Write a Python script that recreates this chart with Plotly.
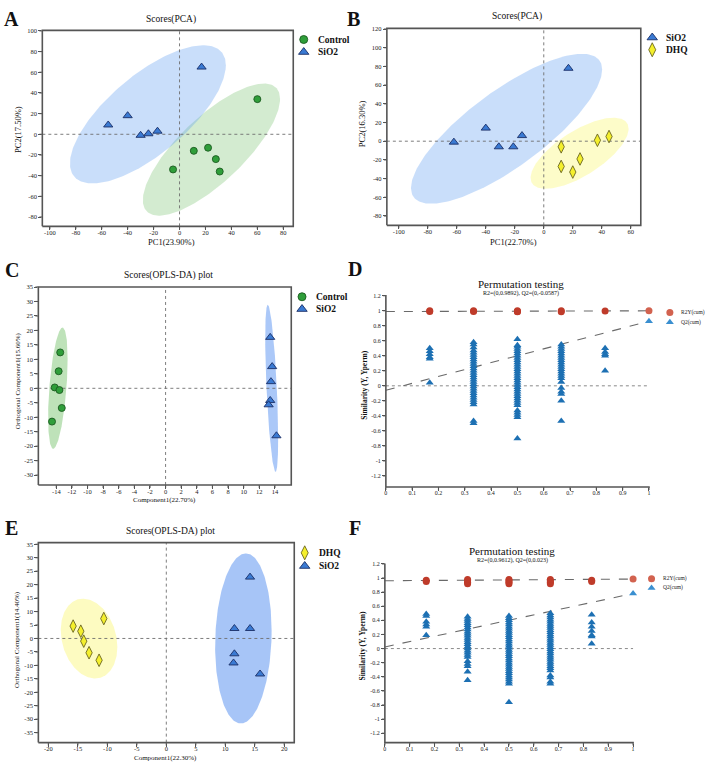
import numpy as np
import plotly.graph_objects as go

W, H = 709, 764
SERIF = "Liberation Serif"

# ---------------- data ----------------
# Panel A : PCA, Control vs SiO2
a_ctrl_x = [60, 11, 22, 28, 31, -5]
a_ctrl_y = [34, -16, -13, -24, -36, -34]
a_sio2_x = [-55, -40, -30, -24, -17, 17]
a_sio2_y = [9, 18, -1, 0.5, 3, 65]
# Panel B : PCA, SiO2 vs DHQ
b_sio2_x = [-62, -40, -31, -21, -15, 17]
b_sio2_y = [-1, 14, -6, -6, 6, 78]
b_dhq_x = [12, 12, 20, 25, 37, 45]
b_dhq_y = [-6, -27, -33, -19, 1, 5]
# Panel C : OPLS-DA, Control vs SiO2
c_ctrl_x = [-13.5, -13.7, -14.2, -13.6, -13.3, -14.55]
c_ctrl_y = [12.4, 5.9, 0.3, -0.6, -6.8, -11.5]
c_sio2_x = [13.4, 13.65, 13.5, 13.4, 13.2, 14.2]
c_sio2_y = [17.6, 7.5, 2.3, -4.2, -5.7, -16.4]
# Panel E : OPLS-DA, DHQ vs SiO2
e_dhq_x = [-15.8, -14.5, -14.0, -13.1, -11.4, -10.6]
e_dhq_y = [4.6, 2.7, -1.0, -5.3, -8.1, 7.4]
e_sio2_x = [14.2, 11.55, 14.2, 11.55, 11.4, 15.9]
e_sio2_y = [22.8, 3.7, 3.7, -5.7, -9.1, -13.2]

# confidence ellipses: centre x, centre y, x half-extent, y half-extent, tilt
ell_a_sio2 = [-24.4, 19.3, 60.1, 66.8, 0.71]
ell_a_ctrl = [24.6, -14.8, 52.9, 63.9, 0.765]
ell_b_sio2 = [-25.65, 13.3, 65.9, 80.2, 0.79]
ell_b_dhq = [24.7, -12.9, 33.8, 38.05, 0.69]
ell_c_ctrl = [-13.8, 0.05, 1.25, 20.95, 0.48]
ell_c_sio2 = [13.59, 0.0, 0.83, 28.85, -0.6]
ell_e_dhq = [-13.1, -0.05, 4.8, 14.85, -0.21]
ell_e_sio2 = [13.07, 0.0, 4.79, 31.6, 0.09]

# permutation tests: x = correlation of permuted Y with original Y
perm_x = [0.1667, 0.3333, 0.5, 0.6667, 0.8333, 1.0]
d_q2 = [
    [0.50, 0.46, 0.42, 0.38, 0.36, 0.04],
    [0.58, 0.55, 0.51, 0.47, 0.44, 0.41, 0.38, 0.35, 0.32, 0.29, 0.26, 0.23, 0.20, 0.17, 0.14,
     0.11, 0.08, 0.05, 0.02, -0.01, -0.04, -0.07, -0.10, -0.13, -0.16, -0.19, -0.22, -0.25, -0.47, -0.50],
    [0.62, 0.54, 0.52, 0.49, 0.46, 0.43, 0.40, 0.37, 0.34, 0.31, 0.28, 0.25, 0.22, 0.19, 0.16, 0.13,
     0.10, 0.07, 0.04, 0.01, -0.02, -0.05, -0.08, -0.11, -0.14, -0.17, -0.20, -0.23, -0.26, -0.33,
     -0.36, -0.39, -0.42, -0.70],
    [0.55, 0.52, 0.49, 0.46, 0.43, 0.40, 0.37, 0.34, 0.31, 0.28, 0.25, 0.22, 0.19, 0.16, 0.13, 0.10,
     0.05, -0.03, -0.08, -0.11, -0.20, -0.47],
    [0.50, 0.45, 0.42, 0.40, 0.20],
    [0.86],
]
d_r2 = [[0.99, 1.0], [0.99, 1.0], [0.985, 0.99, 1.0], [0.985, 1.0], [0.995], [1.0]]
d_r2_line = [0.9892, 0.999]
d_q2_line = [-0.0587, 0.86]

f_q2 = [
    [0.49, 0.46, 0.38, 0.34, 0.31, 0.19],
    [0.45, 0.42, 0.39, 0.36, 0.33, 0.30, 0.27, 0.24, 0.21, 0.18, 0.15, 0.12, 0.09, 0.06, 0.03, 0.00,
     -0.03, -0.06, -0.09, -0.12, -0.18, -0.22, -0.25, -0.33, -0.45],
    [0.46, 0.43, 0.40, 0.37, 0.34, 0.31, 0.28, 0.25, 0.22, 0.19, 0.16, 0.13, 0.10, 0.07, 0.04, 0.01,
     -0.02, -0.05, -0.08, -0.11, -0.14, -0.17, -0.20, -0.23, -0.26, -0.29, -0.32, -0.35, -0.38, -0.41,
     -0.44, -0.47, -0.50, -0.76],
    [0.50, 0.47, 0.44, 0.41, 0.38, 0.35, 0.32, 0.29, 0.26, 0.23, 0.20, 0.17, 0.14, 0.11, 0.08, 0.05,
     0.02, -0.01, -0.04, -0.07, -0.10, -0.13, -0.16, -0.19, -0.22, -0.25, -0.28, -0.31, -0.38, -0.41,
     -0.47, -0.50],
    [0.48, 0.37, 0.31, 0.25, 0.19, 0.17, 0.07],
    [0.78],
]
f_r2 = [[0.95, 0.97], [0.92, 0.94, 0.96, 0.98], [0.92, 0.94, 0.96, 0.98], [0.92, 0.94, 0.96, 0.98],
        [0.95, 0.97], [0.985]]
f_r2_line = [0.9612, 0.985]
f_q2_line = [0.023, 0.78]

# tick values
a_xticks = [-100, -80, -60, -40, -20, 0, 20, 40, 60, 80]
a_yticks = [-80, -60, -40, -20, 0, 20, 40, 60, 80, 100]
b_xticks = [-100, -80, -60, -40, -20, 0, 20, 40, 60]
b_yticks = [-80, -60, -40, -20, 0, 20, 40, 60, 80, 100, 120]
c_xticks = [-14, -12, -10, -8, -6, -4, -2, 0, 2, 4, 6, 8, 10, 12, 14]
c_yticks = [-30, -25, -20, -15, -10, -5, 0, 5, 10, 15, 20, 25, 30, 35]
e_xticks = [-20, -15, -10, -5, 0, 5, 10, 15, 20]
e_yticks = [-35, -30, -25, -20, -15, -10, -5, 0, 5, 10, 15, 20, 25, 30, 35]
p_xticks = [0, 0.1, 0.2, 0.3, 0.4, 0.5, 0.6, 0.7, 0.8, 0.9, 1]
p_yticks = [-1.2, -1, -0.8, -0.6, -0.4, -0.2, 0, 0.2, 0.4, 0.6, 0.8, 1, 1.2]

# ---------------- colours ----------------
GREEN = "#2f9e3a"
GREEN_LINE = "#1c5a20"
BLUE = "#3a7ad3"
BLUE_LINE = "#1b2f66"
YELLOW = "#f4ef2c"
YELLOW_LINE = "#6a6520"
Q2C = "#1d70b3"
Q2C_LIGHT = "#3a8fd0"
R2C = "#bf3b2a"
R2C_LIGHT = "#d2624f"
AXC = "#555555"

# ---------------- panel geometry (page pixels) and ranges ----------------
# key: axis suffix -> (left px, right px, top px, bottom px, xrange, yrange)
panels = {
    "": (40.5, 292.5, 26.5, 223.5, [-105.8, 87.7], [-89, 100.5]),
    "2": (386.5, 641.5, 24.5, 222.5, [-108.2, 66.9], [-90, 120.7]),
    "3": (36.5, 290.5, 284.5, 483.5, [-16.3, 16.1], [-33.4, 35.0]),
    "4": (385.5, 650.5, 292.5, 485.5, [0, 1.003], [-1.347, 1.21]),
    "5": (36.5, 293.5, 541.5, 742.5, [-21.7, 21.7], [-38.7, 35.6]),
    "6": (384.5, 634.5, 562.5, 742.5, [0, 1.003], [-1.333, 1.205]),
}

fig = go.Figure()


def xpix(ax, v):
    x0, x1, y0, y1, xr, yr = panels[ax]
    return x0 + (v - xr[0]) / (xr[1] - xr[0]) * (x1 - x0)


def ypix(ax, v):
    x0, x1, y0, y1, xr, yr = panels[ax]
    return y1 - (v - yr[0]) / (yr[1] - yr[0]) * (y1 - y0)


def fmt(v):
    return "%g" % round(v, 4)


def ellipse(params, ax, color):
    cx, cy, rx, ry, rho = params
    phi = np.arcsin(rho)
    t = np.linspace(0, 2 * np.pi, 240)
    fig.add_trace(go.Scatter(
        x=cx + rx * np.cos(t), y=cy + ry * np.sin(t + phi), mode="lines",
        fill="toself", fillcolor=color, line=dict(width=0), hoverinfo="skip",
        showlegend=False, xaxis="x" + ax, yaxis="y" + ax))


def zero_lines(ax):
    xr, yr = panels[ax][4], panels[ax][5]
    fig.add_trace(go.Scatter(x=[xr[0], xr[1], None, 0, 0], y=[0, 0, None, yr[0], yr[1]],
                             mode="lines", line=dict(color="#6e6e6e", width=0.9, dash="dot"),
                             showlegend=False, hoverinfo="skip", xaxis="x" + ax, yaxis="y" + ax))


def pts(x, y, ax, symbol, color, lcolor, size):
    fig.add_trace(go.Scatter(x=x, y=y, mode="markers", showlegend=False,
                             marker=dict(symbol=symbol, color=color, size=size,
                                         line=dict(color=lcolor, width=0.9)),
                             xaxis="x" + ax, yaxis="y" + ax))


# ---- Panel A ----
ellipse(ell_a_ctrl, "", "rgba(110,190,100,0.30)")
ellipse(ell_a_sio2, "", "rgba(100,160,240,0.35)")
zero_lines("")
pts(a_ctrl_x, a_ctrl_y, "", "circle", GREEN, GREEN_LINE, 7)
pts(a_sio2_x, a_sio2_y, "", "triangle-up", BLUE, BLUE_LINE, 8)
# ---- Panel B ----
ellipse(ell_b_sio2, "2", "rgba(100,160,240,0.35)")
ellipse(ell_b_dhq, "2", "rgba(250,245,100,0.35)")
zero_lines("2")
pts(b_sio2_x, b_sio2_y, "2", "triangle-up", BLUE, BLUE_LINE, 8)
pts(b_dhq_x, b_dhq_y, "2", "diamond-tall", YELLOW, YELLOW_LINE, 9)
# ---- Panel C ----
ellipse(ell_c_ctrl, "3", "rgba(110,190,100,0.45)")
ellipse(ell_c_sio2, "3", "rgba(80,140,240,0.48)")
zero_lines("3")
pts(c_ctrl_x, c_ctrl_y, "3", "circle", GREEN, GREEN_LINE, 7)
pts(c_sio2_x, c_sio2_y, "3", "triangle-up", BLUE, BLUE_LINE, 8)
# ---- Panel E ----
ellipse(ell_e_dhq, "5", "rgba(250,245,100,0.40)")
ellipse(ell_e_sio2, "5", "rgba(80,140,240,0.50)")
zero_lines("5")
pts(e_dhq_x, e_dhq_y, "5", "diamond-tall", YELLOW, YELLOW_LINE, 9)
pts(e_sio2_x, e_sio2_y, "5", "triangle-up", BLUE, BLUE_LINE, 8)


# ---- Permutation panels ----
def perm_panel(ax, q2, r2, r2_line, q2_line):
    fig.add_trace(go.Scatter(x=[0, 1], y=[0, 0], mode="lines",
                             line=dict(color="#8a8a8a", width=1, dash="dot"), showlegend=False,
                             hoverinfo="skip", xaxis="x" + ax, yaxis="y" + ax))
    fig.add_trace(go.Scatter(x=[0, 1], y=r2_line, mode="lines",
                             line=dict(color="#6a6a6a", width=1.1, dash="dash"), showlegend=False,
                             hoverinfo="skip", xaxis="x" + ax, yaxis="y" + ax))
    fig.add_trace(go.Scatter(x=[0, 1], y=q2_line, mode="lines",
                             line=dict(color="#6a6a6a", width=1.1, dash="dash"), showlegend=False,
                             hoverinfo="skip", xaxis="x" + ax, yaxis="y" + ax))
    for i, xv in enumerate(perm_x):
        last = i == len(perm_x) - 1
        fig.add_trace(go.Scatter(x=[xv] * len(q2[i]), y=q2[i], mode="markers", showlegend=False,
                                 cliponaxis=False,
                                 marker=dict(symbol="triangle-up", size=7,
                                             color=Q2C_LIGHT if last else Q2C, line=dict(width=0)),
                                 xaxis="x" + ax, yaxis="y" + ax))
        fig.add_trace(go.Scatter(x=[xv] * len(r2[i]), y=r2[i], mode="markers", showlegend=False,
                                 cliponaxis=False,
                                 marker=dict(symbol="circle", size=7,
                                             color=R2C_LIGHT if last else R2C, line=dict(width=0)),
                                 xaxis="x" + ax, yaxis="y" + ax))


perm_panel("4", d_q2, d_r2, d_r2_line, d_q2_line)
perm_panel("6", f_q2, f_r2, f_r2_line, f_q2_line)

# ---------------- frames and tick marks (page-pixel overlay) ----------------
TL = 3.0
for ax, xt, yt, boxed in [("", a_xticks, a_yticks, True), ("2", b_xticks, b_yticks, True),
                          ("3", c_xticks, c_yticks, True), ("4", p_xticks, p_yticks, False),
                          ("5", e_xticks, e_yticks, True), ("6", p_xticks, p_yticks, False)]:
    x0, x1, y0, y1 = panels[ax][:4]
    if boxed:
        fx = [x0, x1, x1, x0, x0]
        fy = [y1, y1, y0, y0, y1]
    else:
        fx = [x0, x0, x1]
        fy = [y0, y1, y1]
    fig.add_trace(go.Scatter(x=fx, y=fy, mode="lines", line=dict(color=AXC, width=1.6),
                             showlegend=False, hoverinfo="skip", xaxis="x7", yaxis="y7"))
    tx, ty = [], []
    for v in xt:
        px = xpix(ax, v)
        tx += [px, px, None]
        ty += [y1, y1 + TL, None]
    for v in yt:
        py = ypix(ax, v)
        tx += [x0, x0 - TL, None]
        ty += [py, py, None]
    fig.add_trace(go.Scatter(x=tx, y=ty, mode="lines", line=dict(color=AXC, width=1.1),
                             showlegend=False, hoverinfo="skip", xaxis="x7", yaxis="y7"))

# ---------------- legends (glyphs in the page-pixel overlay) ----------------
leg_items = [
    # px, py, symbol, fill, line, size, text
    (303, 35.7, "circle", GREEN, GREEN_LINE, 8, "Control"),
    (303, 48.3, "triangle-up", BLUE, BLUE_LINE, 9, "SiO2"),
    (653, 33.7, "triangle-up", BLUE, BLUE_LINE, 9, "SiO2"),
    (653, 46.0, "diamond-tall", YELLOW, YELLOW_LINE, 10, "DHQ"),
    (301.3, 294.3, "circle", GREEN, GREEN_LINE, 8, "Control"),
    (301.3, 306.7, "triangle-up", BLUE, BLUE_LINE, 9, "SiO2"),
    (304, 551.7, "diamond-tall", YELLOW, YELLOW_LINE, 10, "DHQ"),
    (304, 565.0, "triangle-up", BLUE, BLUE_LINE, 9, "SiO2"),
]
for (lx, ly, sym, fc, lc, sz, txt) in leg_items:
    fig.add_trace(go.Scatter(x=[lx], y=[ly], mode="markers", showlegend=False, hoverinfo="skip",
                             marker=dict(symbol=sym, color=fc, size=sz, line=dict(color=lc, width=0.9)),
                             xaxis="x7", yaxis="y7"))
    fig.add_annotation(x=(lx + 12) / W, y=1 - ly / H, xref="paper", yref="paper", text="<b>%s</b>" % txt,
                       showarrow=False, xanchor="left", yanchor="middle",
                       font=dict(family=SERIF, size=9.5, color="#111"))

perm_leg = [
    (670.7, 310, "circle", R2C_LIGHT, "R2Y(cum)"),
    (670.7, 320, "triangle-up", Q2C_LIGHT, "Q2(cum)"),
    (652.3, 577.7, "circle", R2C_LIGHT, "R2Y(cum)"),
    (652.3, 587, "triangle-up", Q2C_LIGHT, "Q2(cum)"),
]
for (lx, ly, sym, fc, txt) in perm_leg:
    fig.add_trace(go.Scatter(x=[lx], y=[ly], mode="markers", showlegend=False, hoverinfo="skip",
                             marker=dict(symbol=sym, color=fc, size=7, line=dict(width=0)),
                             xaxis="x7", yaxis="y7"))
    fig.add_annotation(x=(lx + 9) / W, y=1 - ly / H, xref="paper", yref="paper", text=txt,
                       showarrow=False, xanchor="left", yanchor="middle",
                       font=dict(family=SERIF, size=5.5, color="#222"))


# ---------------- text annotations ----------------
def ann(px, py, text, size, bold=False, angle=0):
    if bold:
        text = "<b>%s</b>" % text
    fig.add_annotation(x=px / W, y=1 - py / H, xref="paper", yref="paper", text=text, showarrow=False,
                       xanchor="center", yanchor="middle", textangle=angle,
                       font=dict(family=SERIF, size=size, color="#111"))


# panel letters
for (lx, ly, lt) in [(10, 15, "A"), (353, 15, "B"), (10, 267, "C"), (355, 266, "D"),
                     (10, 527, "E"), (355, 527, "F")]:
    ann(lx, ly, lt, 20, bold=True)

# titles
ann(169.3, 15.5, "Scores(PCA)", 9.5)
ann(517.3, 12.7, "Scores(PCA)", 9.5)
ann(167.7, 272.7, "Scores(OPLS-DA) plot", 9.5)
ann(169.3, 530, "Scores(OPLS-DA) plot", 9.5)
ann(521.7, 281, "Permutation testing", 11)
ann(521.7, 291, "R2=(0,0.9892), Q2=(0,-0.0587)", 6)
ann(512.3, 550, "Permutation testing", 11)
ann(512.3, 559.5, "R2=(0,0.9612), Q2=(0,0.023)", 6)

# axis titles
ann(170.7, 239.5, "PC1(23.90%)", 8.5)
ann(16.7, 126, "PC2(17.50%)", 8.5, angle=-90)
ann(514, 239.5, "PC1(22.70%)", 8.5)
ann(362.3, 120, "PC2(16.30%)", 8.5, angle=-90)
ann(163.3, 499, "Component1(22.70%)", 7)
ann(16, 378.3, "Orthogonal Component1(15.60%)", 7, angle=-90)
ann(164.3, 758, "Component1(22.30%)", 7)
ann(15, 638.3, "Orthogonal Component1(14.40%)", 7, angle=-90)
ann(364, 383.3, "Similarity (Y, Yperm)", 7.5, bold=True, angle=-90)
ann(362.3, 645, "Similarity (Y, Yperm)", 7.5, bold=True, angle=-90)


# ---------------- axes ----------------
def axis_pair(ax, xticks, yticks, tsize=6.5):
    x0, x1, y0, y1, xr, yr = panels[ax]
    common = dict(tickmode="array", ticks="outside", ticklen=3, tickwidth=1, tickcolor=AXC,
                  showline=False, showgrid=False, zeroline=False,
                  tickfont=dict(family=SERIF, size=tsize, color="#222"), fixedrange=True)
    xa = dict(domain=[x0 / W, x1 / W], range=xr, tickvals=xticks, ticktext=[fmt(t) for t in xticks],
              anchor="y" + ax, ticklabelstandoff=-3, **common)
    ya = dict(domain=[1 - y1 / H, 1 - y0 / H], range=yr, tickvals=yticks,
              ticktext=[fmt(t) for t in yticks], anchor="x" + ax, **common)
    return xa, ya


layout = dict(width=W, height=H, margin=dict(l=0, r=0, t=0, b=0), paper_bgcolor="white",
              plot_bgcolor="rgba(0,0,0,0)", showlegend=False, font=dict(family=SERIF))
for ax, xt, yt, ts in [("", a_xticks, a_yticks, 6.5), ("2", b_xticks, b_yticks, 6.5),
                       ("3", c_xticks, c_yticks, 6.5), ("4", p_xticks, p_yticks, 6),
                       ("5", e_xticks, e_yticks, 6.5), ("6", p_xticks, p_yticks, 6)]:
    xa, ya = axis_pair(ax, xt, yt, ts)
    layout["xaxis" + ax] = xa
    layout["yaxis" + ax] = ya
layout["xaxis7"] = dict(domain=[0, 1], range=[0, W], visible=False, fixedrange=True, anchor="y7")
layout["yaxis7"] = dict(domain=[0, 1], range=[H, 0], visible=False, fixedrange=True, anchor="x7")
fig.update_layout(**layout)

fig.write_html("out.html")
